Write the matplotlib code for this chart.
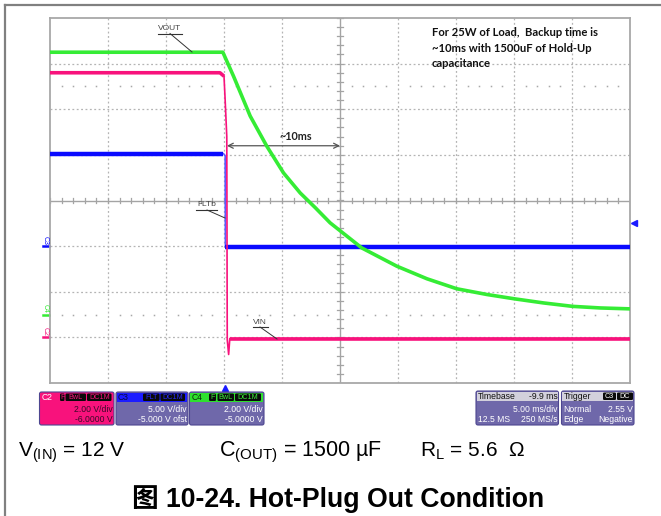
"""Capture oscilloscope : débranchement à chaud (Hot-Plug Out)"""
import numpy as np
import matplotlib.pyplot as plt
from matplotlib.patches import FancyBboxPatch, Rectangle

plt.rcParams['font.family'] = ['Liberation Sans', 'Noto Sans CJK SC', 'DejaVu Sans']
plt.rcParams['mathtext.fontset'] = 'custom'
plt.rcParams['mathtext.rm'] = 'Liberation Sans'

W, H = 661, 516

# Base de temps : 5 ms/div, 10 divisions, retard de déclenchement -9.9 ms
t_div = 5.0
t_delay = -9.9
n_xdiv, n_ydiv = 10, 8

# Réglages des voies (V/div, offset en V)
ch_names = ["C2", "C3", "C4"]
ch_scale = [2.0, 5.0, 2.0]
ch_offset = [-6.0, -5.0, -5.0]
ch_colors = ["#f8127c", "#0a0aff", "#35ec35"]
trig_level = 2.55  # sur C3

# VIN (C2)
vin_t = [-15.1, -0.45, -0.1, 0.0, 0.14, 0.18, 0.3, 0.4, 34.9]
vin_v = [11.6, 11.6, 11.45, 10.4, 8.8, -0.1, -0.75, -0.05, -0.05]

# FLTb (C3)
flt_t = [-15.1, -0.15, 0.0, 0.02, 34.9]
flt_v = [10.15, 10.15, 9.9, -0.1, -0.1]

# VOUT (C4)
vout_t = [-15.1, -0.2, 0.72, 2.16, 3.59, 5.03, 6.47, 7.76, 9.05, 11.78,
          14.8, 17.39, 19.97, 22.56, 24.94, 27.44, 29.94, 32.33, 34.9]
vout_v = [11.5, 11.5, 10.45, 8.70, 7.38, 6.21, 5.33, 4.69, 4.02, 2.92,
          2.12, 1.57, 1.13, 0.88, 0.69, 0.51, 0.36, 0.29, 0.25]


def to_div(v, ch):
    i = ch_names.index(ch)
    return (np.asarray(v) + ch_offset[i]) / ch_scale[i]


fig = plt.figure(figsize=(W / 100, H / 100), dpi=100)
ax = fig.add_axes([50 / W, 1 - 383 / H, 580 / W, 365 / H])
ov = fig.add_axes([0, 0, 1, 1])
ov.set_xlim(0, W)
ov.set_ylim(H, 0)
ov.axis('off')

t0 = -t_delay - n_xdiv / 2 * t_div
t1 = -t_delay + n_xdiv / 2 * t_div
ax.set_xlim(t0, t1)
ax.set_ylim(-n_ydiv / 2, n_ydiv / 2)
ax.set_xticks([])
ax.set_yticks([])
for s in ax.spines.values():
    s.set_color('#a8a8a8')
    s.set_linewidth(1.3)

# Grille
grid_kw = dict(color='#b4b4b4', lw=0.9, ls=(0, (1.5, 2)), zorder=1)
for i in range(1, n_xdiv):
    x = t0 + i * t_div
    if i == n_xdiv // 2:
        ax.axvline(x, color='#a4a4a4', lw=1.0, zorder=1)
    else:
        ax.axvline(x, **grid_kw)
for j in range(1, n_ydiv):
    y = -n_ydiv / 2 + j
    if j == n_ydiv // 2:
        ax.axhline(y, color='#a4a4a4', lw=1.0, zorder=1)
    else:
        ax.axhline(y, **grid_kw)

# Graduations sur les axes centraux
xc = -t_delay
minor_t = np.arange(t0, t1 + 0.01, t_div / 5)
minor_y = np.arange(-n_ydiv / 2, n_ydiv / 2 + 0.01, 0.2)
for x in minor_t:
    ax.plot([x, x], [-0.055, 0.055], color='#a4a4a4', lw=0.9, zorder=1)
for y in minor_y:
    ax.plot([xc - 0.22, xc + 0.22], [y, y], color='#a4a4a4', lw=0.9, zorder=1)
dots_t = [x for k, x in enumerate(minor_t) if k % 5 != 0]
for y in (2.5, -2.5):
    ax.plot(dots_t, [y] * len(dots_t), ls='none', marker='s', ms=1.1,
            color='#a8a8a8', mec='none', zorder=1)

# Traces
c2, c3, c4 = ch_colors
d_flt = to_div(flt_v, "C3")
ax.plot(flt_t, d_flt, color='#5a5aff', lw=1.2, zorder=3)
ax.plot(flt_t[:2], d_flt[:2], color=c3, lw=3.2, zorder=3, solid_capstyle='butt')
ax.plot(flt_t[-2:], d_flt[-2:], color=c3, lw=3.2, zorder=3, solid_capstyle='butt')

d_vin = to_div(vin_v, "C2")
ax.plot(vin_t, d_vin, color=c2, lw=1.2, zorder=4)
ax.plot(vin_t[:3], d_vin[:3], color=c2, lw=2.6, zorder=4, solid_capstyle='butt')
ax.plot(vin_t[-2:], d_vin[-2:], color=c2, lw=2.6, zorder=4, solid_capstyle='butt')

ax.plot(vout_t, to_div(vout_v, "C4"), color=c4, lw=2.6, zorder=5)

# Repères de masse des voies à gauche
ytr = ax.get_yaxis_transform()
for name, col, sc, off in zip(ch_names, ch_colors, ch_scale, ch_offset):
    g = off / sc
    ax.plot([-0.012, -0.002], [g, g], color=col, lw=1.8, transform=ytr, clip_on=False)
    ax.text(-0.009, g + 0.03, name, color=col, fontsize=5, rotation=-90,
            ha='center', va='bottom', transform=ytr)

# Repères de déclenchement
ax.plot([0], [-n_ydiv / 2 - 0.12], marker='^', ms=5, color='#1a1aff', clip_on=False)
ax.plot([1.007], [to_div(trig_level, "C3")], marker='<', ms=5, color='#1a1aff',
        transform=ytr, clip_on=False)

# Flèche ~10ms
y_arr = 1.2
ax.annotate('', xy=(0.15, y_arr), xytext=(9.9, y_arr),
            arrowprops=dict(arrowstyle='<->', color='#555555', lw=0.9,
                            shrinkA=0, shrinkB=0, mutation_scale=9))
ov.text(296, 136, '~10ms', fontsize=7.8, family='Lato', weight='bold',
        ha='center', va='center', color='#222222')

# Étiquettes des signaux
def callout(label, x, y, x0, x1, yl, xe, ye):
    ov.text(x, y, label, fontsize=6, color='#444444', ha='center', va='center')
    ov.plot([x0, x1], [yl, yl], color='#333333', lw=0.8)
    ov.plot([x, xe], [yl, ye], color='#333333', lw=0.7)


callout('VOUT', 170, 29, 158, 182, 33.5, 192, 52)
callout('FLTb', 207, 204.5, 196, 217, 210, 225, 218)
callout('VIN', 260, 322, 253, 268, 327, 277, 339)

ov.text(432, 27, "For 25W of Load,  Backup time is\n~10ms with 1500uF of Hold-Up\ncapacitance",
        fontsize=8.1, family='Lato', weight='bold', ha='left', va='top',
        linespacing=1.5, color='#111111')

# Cadre extérieur
ov.plot([5, W], [5, 5], color='#808080', lw=1.6)
ov.plot([5, 5], [5, H], color='#808080', lw=1.6)

# Boîtes d'état
body_fc = '#6f68aa'
edge = '#4d4690'


def box(x0, x1, head_fc, fc=body_fc, y0=392, y1=425, yh=402):
    ov.add_patch(FancyBboxPatch((x0, y0), x1 - x0, y1 - y0,
                                boxstyle='round,pad=0,rounding_size=2',
                                fc=fc, ec=edge, lw=0.8))
    ov.add_patch(Rectangle((x0 + 0.6, y0 + 0.6), x1 - x0 - 1.2, yh - y0 - 0.6,
                           fc=head_fc, ec='none'))


def badge(x0, x1, txt, col, y0=393.5, y1=401):
    ov.add_patch(FancyBboxPatch((x0, y0), x1 - x0, y1 - y0,
                                boxstyle='round,pad=0,rounding_size=1.2',
                                fc='#0a0a0a', ec='none'))
    ov.text((x0 + x1) / 2, (y0 + y1) / 2 + 0.3, txt, color=col, fontsize=5.2,
            ha='center', va='center')


small = dict(fontsize=6.2, va='center')

box(39.5, 114, c2, fc=c2)
ov.text(41.5, 397.5, 'C2', color='white', **small)
badge(60, 64.5, 'F', c2)
badge(65.5, 86, 'BwL', c2)
badge(87, 111.5, 'DC1M', c2)
ov.text(113, 410, '2.00 V/div', color='#3a0a28', ha='right', **small)
ov.text(113, 420, '-6.0000 V', color='#3a0a28', ha='right', **small)

box(116, 188, '#1c1cff')
ov.text(118, 397.5, 'C3', color='#0a0a40', **small)
badge(143, 159.5, 'FLT', '#2a2aff')
badge(160.5, 185, 'DC1M', '#2a2aff')
ov.text(187, 410, '5.00 V/div', color='white', ha='right', **small)
ov.text(187, 420, '-5.000 V ofst', color='white', ha='right', **small)

box(189.5, 264, '#2ee02e')
ov.text(191.5, 397.5, 'C4', color='#0a2a0a', **small)
badge(209, 216, 'F', '#3cf03c')
badge(217.5, 234, 'BwL', '#3cf03c')
badge(235, 261, 'DC1M', '#3cf03c')
ov.text(263, 410, '2.00 V/div', color='white', ha='right', **small)
ov.text(263, 420, '-5.0000 V', color='white', ha='right', **small)

box(476, 558.5, '#d2d0dc', y0=391, yh=401)
ov.text(478, 396.5, 'Timebase', color='#111111', **small)
ov.text(557.5, 396.5, '-9.9 ms', color='#111111', ha='right', **small)
ov.text(557.5, 410, '5.00 ms/div', color='white', ha='right', **small)
ov.text(477.5, 420, '12.5 MS', color='white', **small)
ov.text(557.5, 420, '250 MS/s', color='white', ha='right', **small)

box(561.5, 634, '#d2d0dc', y0=391, yh=401)
ov.text(563.5, 396.5, 'Trigger', color='#111111', **small)
badge(603, 616, 'C3', 'white', y0=392.5, y1=400)
badge(617, 633, 'DC', 'white', y0=392.5, y1=400)
ov.text(563.5, 410, 'Normal', color='white', **small)
ov.text(633, 410, '2.55 V', color='white', ha='right', **small)
ov.text(563.5, 420, 'Edge', color='white', **small)
ov.text(633, 420, 'Negative', color='white', ha='right', **small)

# Conditions de test
ov.text(18, 456.5, r'V$_{\mathrm{(IN)}}$ = 12 V', fontsize=15, va='baseline')
ov.text(219, 456.5, r'C$_{\mathrm{(OUT)}}$ = 1500 µF', fontsize=15.5, va='baseline')
ov.text(420, 456.5, r'R$_{\mathrm{L}}$ = 5.6  Ω', fontsize=15, va='baseline')

ov.text(338, 507, '图 10-24. Hot-Plug Out Condition', fontsize=19.2,
        weight='bold', ha='center', va='baseline')

fig.savefig('out.png', dpi=100)
